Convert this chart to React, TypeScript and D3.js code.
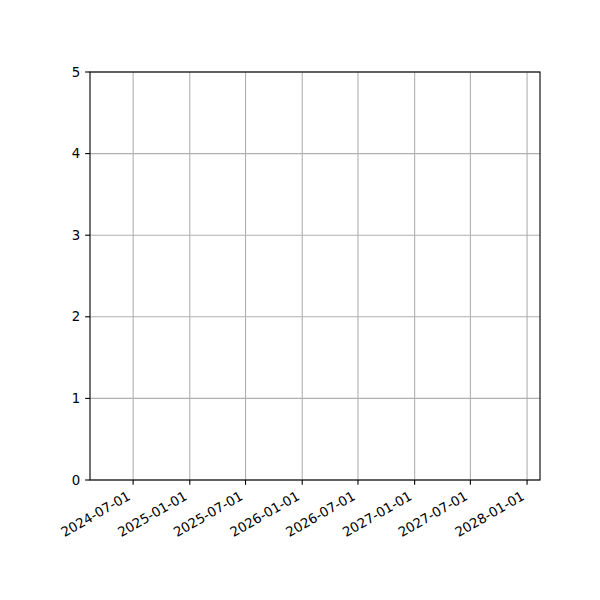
import React, { useEffect, useRef } from "react";
import * as d3 from "d3";

// x domain and the tick positions
const xDomain: string[] = ["2024-02-12", "2028-02-12"];
const xTickLabels: string[] = [
    "2024-07-01",
    "2025-01-01",
    "2025-07-01",
    "2026-01-01",
    "2026-07-01",
    "2027-01-01",
    "2027-07-01",
    "2028-01-01",
];
const yDomain: number[] = [0, 5];
const yTickValues: number[] = [0, 1, 2, 3, 4, 5];

const width = 600;
const height = 600;
const margin = { top: 72, right: 60, bottom: 120, left: 90 };
const fontSize = 13.3;
const tickLen = 4.86;
const tickPad = 4.86;

export default function App() {
    const svgRef = useRef<SVGSVGElement | null>(null);

    useEffect(() => {
        if (!svgRef.current) return;
        const svg = d3.select(svgRef.current);
        svg.selectAll("*").remove();

        const parse = d3.utcParse("%Y-%m-%d");
        const x = d3.scaleUtc()
            .domain(xDomain.map(d => parse(d) as Date))
            .range([margin.left, width - margin.right]);
        const y = d3.scaleLinear()
            .domain(yDomain)
            .range([height - margin.bottom, margin.top]);

        const x0 = margin.left, x1 = width - margin.right;
        const y0 = height - margin.bottom, y1 = margin.top;
        const xTicks = xTickLabels.map(d => parse(d) as Date);

        svg.append("rect")
            .attr("x", x0).attr("y", y1)
            .attr("width", x1 - x0).attr("height", y0 - y1)
            .attr("fill", "white");

        // grid
        const grid = svg.append("g").attr("stroke", "#b0b0b0").attr("stroke-width", 1.1);
        grid.selectAll("line.vx")
            .data(xTicks)
            .join("line")
            .attr("x1", d => x(d)).attr("x2", d => x(d))
            .attr("y1", y0).attr("y2", y1);
        grid.selectAll("line.hy")
            .data(yTickValues)
            .join("line")
            .attr("x1", x0).attr("x2", x1)
            .attr("y1", d => y(d)).attr("y2", d => y(d));

        // ticks
        const ticks = svg.append("g").attr("stroke", "black").attr("stroke-width", 1.1);
        ticks.selectAll("line.tx")
            .data(xTicks)
            .join("line")
            .attr("x1", d => x(d)).attr("x2", d => x(d))
            .attr("y1", y0).attr("y2", y0 + tickLen);
        ticks.selectAll("line.ty")
            .data(yTickValues)
            .join("line")
            .attr("x1", x0 - tickLen).attr("x2", x0)
            .attr("y1", d => y(d)).attr("y2", d => y(d));

        // tick labels
        const labels = svg.append("g")
            .attr("font-family", "DejaVu Sans")
            .attr("font-size", fontSize)
            .attr("fill", "black");
        labels.selectAll("text.lx")
            .data(xTicks)
            .join("text")
            .attr("text-anchor", "end")
            .attr("transform", d => `translate(${x(d) - 1.7},${y0 + tickLen + tickPad + 9}) rotate(-30)`)
            .text((d, i) => xTickLabels[i]);
        labels.selectAll("text.ly")
            .data(yTickValues)
            .join("text")
            .attr("text-anchor", "end")
            .attr("dominant-baseline", "central")
            .attr("x", x0 - tickLen - tickPad)
            .attr("y", d => y(d))
            .text(d => String(d));

        // spines
        svg.append("rect")
            .attr("x", x0).attr("y", y1)
            .attr("width", x1 - x0).attr("height", y0 - y1)
            .attr("fill", "none")
            .attr("stroke", "black")
            .attr("stroke-width", 1.1);
    }, []);

    return (
        <svg
            ref={svgRef}
            width={width}
            height={height}
            style={{ position: "absolute", left: 0, top: 0, background: "white" }}
        />
    );
}
